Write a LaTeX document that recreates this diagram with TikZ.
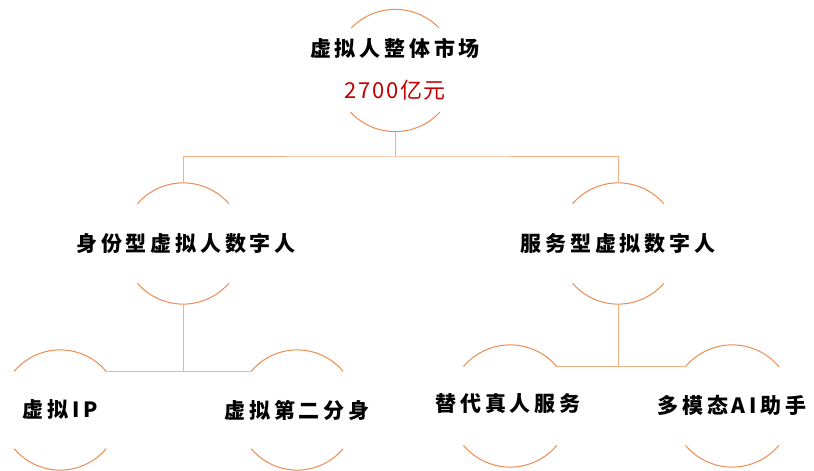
\documentclass[tikz,border=0pt]{standalone}
\usepackage{fontspec}
\newfontfamily\cjk{Noto Sans CJK SC}[LetterSpace=18]
\newfontfamily\cjknum{Noto Sans CJK SC}[LetterSpace=8]
\definecolor{arcc}{HTML}{ED8A4F}
\definecolor{linec}{HTML}{F4B183}
\definecolor{redc}{HTML}{C00000}
\begin{document}
\begin{tikzpicture}[x=1pt,y=1pt,
  ring/.style={circle,inner sep=0pt,minimum size=#1},
  arcline/.style={draw=arcc,line width=1pt},
  conn/.style={draw=linec,line width=1pt},
  lbl/.style={font=\cjk\bfseries\fontsize{21}{24}\selectfont,text=black,inner sep=0pt},
  numlbl/.style={font=\cjknum\fontsize{22}{25}\selectfont,text=redc,inner sep=0pt}]
\useasboundingbox (0,0) rectangle (814,471);
% circles (invisible nodes for anchors)
\node[ring=122pt] (c0) at (395,400.5) {};
\node[ring=121pt] (c1) at (183,227.5) {};
\node[ring=121pt] (c2) at (618,227.5) {};
\node[ring=120pt] (c3) at (60,61) {};
\node[ring=120pt] (c4) at (297,61) {};
\node[ring=122pt] (c5) at (510,65) {};
\node[ring=122pt] (c6) at (732,65) {};
% arcs
\draw[arcline] (c0.44) arc (44:136:61);
\draw[arcline] (c0.-43) arc (-43:-137:61);
\foreach \c/\r in {c1/60.5,c2/60.5}{
  \draw[arcline] (\c.41) arc (41:139:\r);
  \draw[arcline] (\c.-41) arc (-41:-139:\r);
}
\foreach \c/\r in {c3/60,c4/60,c5/61,c6/61}{
  \draw[arcline] (\c.40) arc (40:140:\r);
  \draw[arcline] (\c.-40) arc (-40:-140:\r);
}
% connectors
\coordinate (j0) at (395,314);
\draw[conn] (c0.south) -- (j0);
\draw[conn] (c1.north) |- (j0) -| (c2.north);
\draw[conn] (c1.south) |- (c3.40);
\draw[conn] (c1.south |- c3.40) -- (c4.140);
\draw[conn] (c2.south) |- (c5.40);
\draw[conn] (c2.south |- c5.40) -- (c6.140);
% labels
\node[lbl] (t0) at (395,423) {虚拟人整体市场};
\node[numlbl] (t0b) at (395,381) {2700亿元};
\node[lbl] (t1) at (186,227.5) {身份型虚拟人数字人};
\node[lbl] (t2) at (618,227.5) {服务型虚拟数字人};
\node[lbl] (t3) at (60,61) {虚拟IP};
\node[lbl] (t4) at (297,61) {虚拟第二分身};
\node[lbl] (t5) at (508,67) {替代真人服务};
\node[lbl] (t6) at (732,66) {多模态AI助手};
\end{tikzpicture}
\end{document}
